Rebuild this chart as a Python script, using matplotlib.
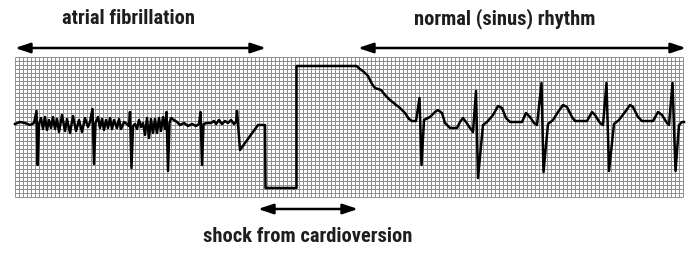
import numpy as np
import matplotlib.pyplot as plt
from matplotlib import font_manager

# ECG trace (x = horizontal position, y = vertical position, image pixels)
trace_x = [15, 20, 25, 30, 34, 36.5, 37.7, 39,
           41, 43, 45, 47, 49, 51, 53, 55, 57, 59, 62, 65, 67, 70, 73, 76, 79, 82, 85, 88, 90,
           92.5, 94, 95.5,
           98, 100, 102, 104, 106, 108, 110, 112, 114, 117, 119, 121, 124, 127, 129,
           130, 131.5, 133,
           135, 137, 139, 141, 143, 145, 147, 149, 151, 153, 155, 157, 159, 161, 163, 165,
           166.5, 168, 169.5, 171, 174, 177, 180, 184, 188, 192, 196, 199,
           200.5, 202, 203.5, 207, 211, 214, 216, 219, 222, 225, 228, 231, 234, 236,
           237, 240, 258, 265,
           265.5, 296.5, 296.5, 356.5,
           360, 364, 368, 372, 375, 381, 386, 390, 395, 400, 405, 409, 412, 416,
           419.5, 421.5, 424, 430, 435, 438, 442, 445, 450, 457, 460, 463, 466, 470, 473,
           476, 478, 483, 487, 493, 498, 502, 506, 510, 522, 526, 530, 534, 537,
           541.5, 543.5, 548, 553, 558, 563, 567, 572, 575, 587, 592, 595, 600, 603,
           606.5, 609, 614, 619, 625, 630, 633, 638, 642, 653, 658, 662, 667, 669,
           672.5, 675.5, 679, 682, 684]
trace_y = [124, 122, 123, 125, 123, 111, 165, 124,
           118, 129, 117, 130, 120, 128, 117, 129, 119, 132, 115, 131, 119, 133, 116, 131, 120, 132, 118, 127, 122,
           109, 164, 123,
           117, 128, 119, 130, 120, 128, 118, 129, 120, 128, 119, 129, 122, 124, 126,
           112, 168, 126,
           124, 129, 120, 127, 123, 135, 118, 138, 119, 133, 119, 133, 118, 131, 117, 129,
           112, 171, 123, 118, 120, 122, 125, 123, 126, 124, 126, 124,
           112, 165, 124, 123, 123, 121, 124, 120, 124, 121, 123, 120, 124, 122,
           111, 150, 125, 125,
           188, 188, 66, 66,
           69, 72, 76, 84, 88, 90, 96, 100, 104, 108, 113, 119, 121, 121,
           98, 165, 120, 117, 112, 110, 113, 123, 128, 128, 122, 118, 122, 128, 132,
           91, 178, 125, 122, 115, 106, 108, 118, 122, 122, 113, 117, 123, 125,
           83, 172, 124, 120, 112, 105, 107, 117, 121, 121, 112, 115, 123, 125,
           83, 171, 124, 120, 112, 105, 107, 117, 121, 121, 112, 115, 123, 125,
           83, 171, 125, 122, 122]

labels = ["atrial fibrillation", "normal (sinus) rhythm", "shock from cardioversion"]
label_pos = [(129, 19), (505, 19), (308, 237)]
spans = [(15, 266, 48), (358, 686, 48), (258, 358, 209)]

installed = {f.name for f in font_manager.fontManager.ttflist}
fam = [f for f in ['Roboto Condensed', 'Liberation Sans Narrow', 'Roboto'] if f in installed]
plt.rcParams['font.family'] = fam + ['DejaVu Sans']

fig = plt.figure(figsize=(7, 2.61), dpi=100)
ax = fig.add_axes([0, 0, 1, 1])
ax.set_xlim(0, 700)
ax.set_ylim(261, 0)
ax.axis('off')

# ECG paper grid
gx = np.arange(15, 686, 4)
gy = np.arange(57, 200, 4)
ax.vlines(gx, 57, gy[-1], color='#8f8f8f', lw=0.7, zorder=1)
ax.hlines(gy, 15, gx[-1], color='#8f8f8f', lw=0.7, zorder=1)

ax.plot(trace_x, trace_y, color='black', lw=1.8, solid_joinstyle='round', zorder=3)

for (x0, x1, y) in spans:
    ax.annotate('', xy=(x1, y), xytext=(x0, y),
                arrowprops=dict(arrowstyle='<|-|>,head_length=0.9,head_width=0.3',
                                color='black', lw=1.8, shrinkA=0, shrinkB=0))

# size the labels so "atrial fibrillation" spans about 133 px, as in the strip
fig.canvas.draw()
r = fig.canvas.get_renderer()
probe = ax.text(0, 0, labels[0], fontsize=15, fontweight='bold')
w = probe.get_window_extent(r).width
probe.remove()
fs = 15 * 133 / w

for txt, (x, y) in zip(labels, label_pos):
    ax.text(x, y, txt, ha='center', va='center', fontsize=fs, fontweight='bold',
            color='#1e1e1e')

fig.savefig('out.png', dpi=100)
